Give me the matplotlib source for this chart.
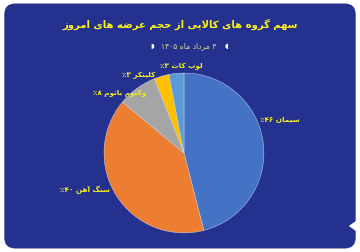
import matplotlib
matplotlib.use("Agg")
import matplotlib.pyplot as plt
from matplotlib.patches import FancyBboxPatch, Polygon

# Daten
names = ["سیمان", "سنگ آهن", "وکیوم باتوم", "کلینکر", "لوب کات"]
values = [46, 40, 8, 3, 3]
colors = ["#4472C4", "#ED7D31", "#A5A5A5", "#FFC000", "#5B9BD5"]
title = "سهم گروه های کالایی از حجم عرضه های امروز"
subtitle = "۴ مرداد ماه ۱۴۰۵"

# einfache Formung fuer persische Buchstaben (isoliert, final, initial, medial)
FORMS = {
    "ا": ("\uFE8D", "\uFE8E", None, None),
    "آ": ("\uFE81", "\uFE82", None, None),
    "ب": ("\uFE8F", "\uFE90", "\uFE91", "\uFE92"),
    "ت": ("\uFE95", "\uFE96", "\uFE97", "\uFE98"),
    "ج": ("\uFE9D", "\uFE9E", "\uFE9F", "\uFEA0"),
    "ح": ("\uFEA1", "\uFEA2", "\uFEA3", "\uFEA4"),
    "د": ("\uFEA9", "\uFEAA", None, None),
    "ر": ("\uFEAD", "\uFEAE", None, None),
    "ز": ("\uFEAF", "\uFEB0", None, None),
    "س": ("\uFEB1", "\uFEB2", "\uFEB3", "\uFEB4"),
    "ض": ("\uFEBD", "\uFEBE", "\uFEBF", "\uFEC0"),
    "ع": ("\uFEC9", "\uFECA", "\uFECB", "\uFECC"),
    "ل": ("\uFEDD", "\uFEDE", "\uFEDF", "\uFEE0"),
    "م": ("\uFEE1", "\uFEE2", "\uFEE3", "\uFEE4"),
    "ن": ("\uFEE5", "\uFEE6", "\uFEE7", "\uFEE8"),
    "ه": ("\uFEE9", "\uFEEA", "\uFEEB", "\uFEEC"),
    "و": ("\uFEED", "\uFEEE", None, None),
    "ک": ("\uFB8E", "\uFB8F", "\uFB90", "\uFB91"),
    "گ": ("\uFB92", "\uFB93", "\uFB94", "\uFB95"),
    "ی": ("\uFBFC", "\uFBFD", "\uFBFE", "\uFBFF"),
}
LAM_ALEF = {"ا": ("\uFEFB", "\uFEFC"), "آ": ("\uFEF5", "\uFEF6")}
DIGITS = "۰۱۲۳۴۵۶۷۸۹"


def dual(c):
    return c in FORMS and FORMS[c][2] is not None


def shape(s):
    out = []
    i = 0
    while i < len(s):
        c = s[i]
        if c not in FORMS:
            out.append(c)
            i += 1
            continue
        prev = s[i - 1] if i > 0 else ""
        joined_prev = dual(prev)
        if c == "ل" and i + 1 < len(s) and s[i + 1] in LAM_ALEF:
            out.append(LAM_ALEF[s[i + 1]][1 if joined_prev else 0])
            i += 2
            continue
        nxt = s[i + 1] if i + 1 < len(s) else ""
        joined_next = dual(c) and nxt in FORMS
        f = FORMS[c]
        if joined_prev and joined_next:
            out.append(f[3])
        elif joined_prev:
            out.append(f[1])
        elif joined_next:
            out.append(f[2])
        else:
            out.append(f[0])
        i += 1
    # fuer Links-nach-rechts-Ausgabe umdrehen, Zahlen bleiben in Reihenfolge
    vis = "".join(out)[::-1]
    res, run = "", ""
    for ch in vis:
        if ch in DIGITS:
            run += ch
        else:
            res += run[::-1] + ch
            run = ""
    return res + run[::-1]


plt.rcParams["font.family"] = ["DejaVu Sans"]

fig = plt.figure(figsize=(3.6, 2.52), dpi=100)
fig.patch.set_facecolor("white")

# Hintergrundkarte
card = FancyBboxPatch((0.012, 0.014), 0.976, 0.972, boxstyle="round,pad=0,rounding_size=0.03",
                      transform=fig.transFigure, facecolor="#25318F", edgecolor="none",
                      mutation_aspect=360 / 252, zorder=-10)
fig.patches.append(card)
notch = Polygon([(1.0, 0.135), (0.969, 0.103), (1.0, 0.072)], closed=True,
                transform=fig.transFigure, facecolor="white", edgecolor="none", zorder=-9)
fig.patches.append(notch)

fig.text(0.5, 0.905, shape(title), ha="center", va="center", fontsize=7.2,
         fontweight="bold", color="#FFF21A")
fig.text(0.525, 0.818, shape(subtitle), ha="center", va="center", fontsize=5.5,
         color="#D9D48A")
fig.text(0.422, 0.818, "◗", ha="center", va="center", fontsize=5, color="white")
fig.text(0.63, 0.818, "◖", ha="center", va="center", fontsize=5, color="white")

# Kreisdiagramm
ax = fig.add_axes([0.289, 0.0754, 0.444, 0.635])
ax.pie(values, colors=colors, startangle=90, counterclock=False,
       wedgeprops=dict(edgecolor="#DDE3F0", linewidth=0.3))
ax.set_xlim(-1, 1)
ax.set_ylim(-1, 1)
ax.set_aspect("equal")

# Beschriftungen (Position in Pixel, Ausrichtung)
label_pos = [(280, 119, "center"), (110, 190, "right"), (146, 93, "right"),
             (155, 75, "right"), (181, 66, "center")]
for name, v, (px, py, ha) in zip(names, values, label_pos):
    num = "".join(DIGITS[int(d)] for d in str(v))
    fig.text(px / 360, 1 - py / 252, shape(name + " " + num + "٪"), ha=ha,
             va="center", fontsize=5.2, fontweight="bold", color="#F7EE1E")

fig.savefig("out.png", dpi=100, facecolor=fig.get_facecolor())
